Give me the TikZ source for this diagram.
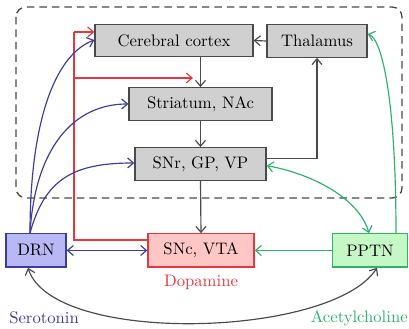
\documentclass[tikz,border=0pt]{standalone}
\usepackage[HTML]{xcolor}
\usetikzlibrary{positioning, arrows, arrows.meta}

\definecolor{boxgray}{HTML}{D0D0D0}
\definecolor{linegray}{HTML}{4A4A4A}
\definecolor{serblue}{HTML}{3C3C9C}
\definecolor{serfill}{HTML}{B8B8F6}
\definecolor{dopred}{HTML}{E8363E}
\definecolor{dopfill}{HTML}{FFC6C6}
\definecolor{achgreen}{HTML}{2DB36A}
\definecolor{achfill}{HTML}{C6F8C6}

\tikzset{
  region/.style={draw=linegray, fill=boxgray, line width=0.8pt, inner sep=0pt,
    minimum height=19.5pt},
  sero/.style={serblue, line width=0.7pt},
  dopa/.style={dopred, line width=0.7pt},
  acet/.style={achgreen, line width=0.7pt},
  fibre/.style={linegray, line width=0.7pt},
}

\begin{document}
\begin{tikzpicture}[x=0.6pt, y=-0.6pt, >={Straight Barb[length=3.5pt,width=6pt]}]
\useasboundingbox (0,0) rectangle (409,329);
% dashed frame
\draw[linegray, line width=0.8pt, dash pattern=on 4.5pt off 3pt, rounded corners=6pt]
  (16,7) rectangle (402,198);
% regions
\node[region, minimum width=94.8pt] (cortex) at (174,40.5) {Cerebral cortex};
\node[region, minimum width=60pt] (thal) at (317,41) {Thalamus};
\node[region, minimum width=85.8pt] (stri) at (200.5,104) {Striatum, NAc};
\node[region, minimum width=78.6pt] (snr) at (200.5,164) {SNr, GP, VP};
\node[region, draw=serblue, fill=serfill, minimum width=36pt, minimum height=20pt] (drn) at (36,250.5) {DRN};
\node[region, draw=dopred, fill=dopfill, minimum width=63.6pt, minimum height=20pt] (snc) at (201,250.5) {SNc, VTA};
\node[region, draw=achgreen, fill=achfill, minimum width=45pt, minimum height=20pt] (pptn) at (370,250.5) {PPTN};
% labels
\node[serblue, anchor=west, inner sep=0pt] (serlab) at (9,318) {Serotonin};
\node[dopred] (doplab) at (201,282) {Dopamine};
\node[achgreen, anchor=east, inner sep=0pt] (achlab) at (408,318) {Acetylcholine};
% black pathways
\draw[fibre,->] (thal.west) -- (cortex.east);
\draw[fibre,->] (stri.north |- cortex.south) -- (stri.north);
\draw[fibre,->] (stri.south) -- (snr.north);
\draw[fibre,->] (snr.south) -- (snc.north);
\draw[fibre,->] ([yshift=3.3pt]snr.east) -| (thal.south);
\draw[fibre,<->] ([xshift=-4.8pt]drn.south) .. controls +(25,78) and +(-45,70) .. ([xshift=4.2pt]pptn.south);
% dopamine
\coordinate (rA) at (74,32);
\coordinate (rB) at (74,78);
\coordinate (rBend) at (193,78);
\draw[dopa] ([yshift=6.3pt]snc.west) -| (rA);
\draw[dopa,->] (rA) -- (rA -| cortex.west);
\draw[dopa,->] (rB) -- (rBend);
% serotonin
\draw[sero,->] ([xshift=-3.6pt]drn.north) .. controls +(0,-110) and +(-40,15) .. ([yshift=0.3pt]cortex.west);
\draw[sero,->] ([xshift=-3.6pt]drn.north) .. controls +(5,-85) and +(-55,0) .. (stri.west);
\draw[sero,->] ([xshift=-3.6pt]drn.north) .. controls +(15,-55) and +(-60,0) .. ([yshift=0.6pt]snr.west);
\draw[sero,<->] (drn.east) -- (snc.west);
% acetylcholine
\draw[acet,->] (pptn.west) -- (snc.east);
\draw[acet,<->] ([yshift=-1pt]snr.east) .. controls +(45,8) and +(-10,-35) .. ([xshift=-0.6pt]pptn.north);
\draw[acet,->] ([xshift=15.6pt]pptn.north) .. controls +(0,-130) and +(15,5) .. ([yshift=4.2pt]thal.east);
\end{tikzpicture}
\end{document}
